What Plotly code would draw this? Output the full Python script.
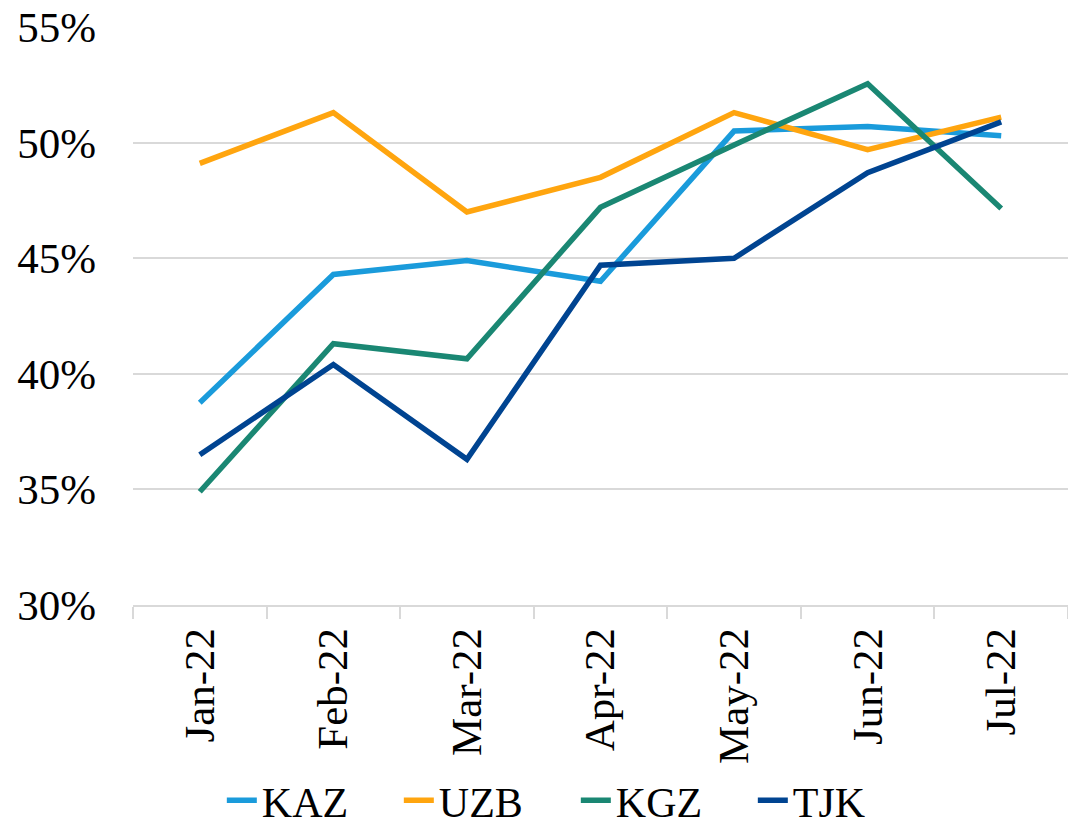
import plotly.graph_objects as go

months = ["Jan-22", "Feb-22", "Mar-22", "Apr-22", "May-22", "Jun-22", "Jul-22"]
kaz = [38.75, 44.3, 44.9, 44.0, 50.5, 50.7, 50.3]
uzb = [49.1, 51.3, 47.0, 48.5, 51.3, 49.7, 51.1]
kgz = [34.9, 41.3, 40.65, 47.2, 49.9, 52.55, 47.15]
tjk = [36.5, 40.4, 36.3, 44.7, 45.0, 48.7, 50.9]
y_ticks = [30, 35, 40, 45, 50, 55]
y_tick_labels = ["30%", "35%", "40%", "45%", "50%", "55%"]

series = [("KAZ", kaz, "rgb(26,155,219)"),
          ("UZB", uzb, "rgb(255,165,15)"),
          ("KGZ", kgz, "rgb(26,135,115)"),
          ("TJK", tjk, "rgb(0,68,145)")]

FONT = "Liberation Serif, Times New Roman, serif"

fig = go.Figure()
for name, vals, col in series:
    fig.add_trace(go.Scatter(x=months, y=vals, name=name, mode="lines",
                             line=dict(color=col, width=5.5)))

fig.update_layout(
    width=1060, height=815,
    margin=dict(l=125, r=0, t=19, b=218, autoexpand=False),
    paper_bgcolor="white", plot_bgcolor="white",
    font=dict(family=FONT, size=43, color="black"),
    showlegend=True,
    legend=dict(orientation="h", x=0.095, xanchor="left",
                y=-0.338, yanchor="middle",
                entrywidth=132, entrywidthmode="pixels",
                font=dict(family=FONT, size=42, color="black"),
                itemwidth=30, tracegroupgap=0, bgcolor="rgba(0,0,0,0)"),
)
fig.update_xaxes(type="category", range=[-0.5, 6.5], tickangle=-90, tickson="boundaries",
                 ticks="outside", ticklen=12, tickcolor="#d9d9d9", tickwidth=1.5,
                 showline=True, linecolor="#d9d9d9", linewidth=1.5,
                 showgrid=False, ticklabelstandoff=4, automargin=False,
                 tickfont=dict(family=FONT, size=43, color="black"))
fig.update_yaxes(range=[30, 55.001], tickvals=y_ticks, ticktext=y_tick_labels,
                 showgrid=True, gridcolor="#d9d9d9", gridwidth=1.5,
                 zeroline=False, showline=False, ticks="",
                 ticklabelstandoff=36, automargin=False, ticklabeloverflow="allow",
                 tickfont=dict(family=FONT, size=43, color="black"))

fig.write_html("out.html")
